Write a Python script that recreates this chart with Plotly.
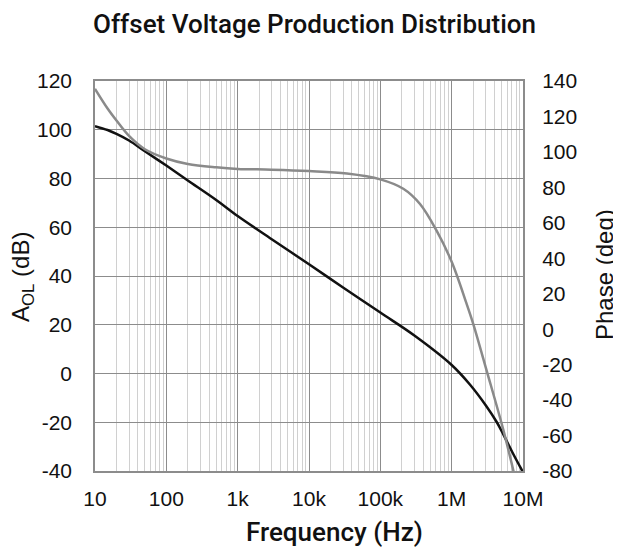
import plotly.graph_objects as go

# Data
gain_freq = [10, 15, 20, 30, 50, 100, 200, 500, 1e3, 3e3, 1e4, 3e4, 1e5, 3e5, 1e6, 1.8e6, 3e6, 4.3e6, 5.3e6, 7e6, 1e7]
gain_db = [101.5, 99.9, 98.3, 95.6, 91.2, 85.3, 79.2, 71.2, 64.6, 55.1, 44.8, 35.3, 25.0, 15.6, 3.5, -4.5, -13.0, -20.0, -25.0, -32.0, -40.5]

phase_freq = [10, 15, 20, 30, 50, 100, 200, 500, 1e3, 3e3, 1e4, 3.4e4, 1e5, 2.1e5, 3.6e5, 6.2e5, 1e6, 1.63e6, 2.02e6, 3.1e6, 5.3e6, 7.4e6]
phase_deg = [135.6, 124.5, 117.7, 109.0, 101.5, 96.3, 93.2, 91.3, 90.4, 90.0, 89.2, 87.8, 84.5, 79.2, 70.6, 55.3, 38.0, 14.0, 2.6, -23.5, -56.8, -80.5]

x_tickvals = [10, 100, 1e3, 1e4, 1e5, 1e6, 1e7]
x_ticktext = ["10", "100", "1k", "10k", "100k", "1M", "10M"]
x_minor = [k * 10 ** d for d in range(1, 7) for k in range(2, 10)]

y_tickvals = [-40, -20, 0, 20, 40, 60, 80, 100, 120]
y_ticktext = ["-40", "-20", "0", "20", "40", "60", "80", "100", "120"]
y2_tickvals = [-80, -60, -40, -20, 0, 20, 40, 60, 80, 100, 120, 140]
y2_ticktext = ["-80", "-60", "-40", "-20", "0", "20", "40", "60", "80", "100", "120", "140"]

title_text = "Offset Voltage Production Distribution"
x_title = "Frequency (Hz)"
y_title = "A<sub>OL</sub> (dB)"
y2_title = "Phase (deg)"

# page has an 8px body margin; compensate so the plot lands where the reference has it
OFF = 8
W, H = 621 - OFF, 550 - OFF
L, R, T, B = 95 - OFF, 98, 81 - OFF, 87 - OFF

fig = go.Figure()
fig.add_trace(go.Scatter(x=phase_freq, y=phase_deg, yaxis="y2", mode="lines",
                         line=dict(color="#8a8a8a", width=2.5, shape="spline", smoothing=1.0),
                         showlegend=False, hoverinfo="skip"))
fig.add_trace(go.Scatter(x=gain_freq, y=gain_db, mode="lines",
                         line=dict(color="#111111", width=2.5, shape="spline", smoothing=1.0),
                         showlegend=False, hoverinfo="skip"))

tick_font = dict(family="Liberation Sans, Arial, sans-serif", size=21, color="#111")
side_font = dict(family="Liberation Sans, Arial, sans-serif", size=24, color="#111")
head_font = dict(family="Roboto, sans-serif", size=26, color="#111", weight=500)

fig.update_layout(
    width=W, height=H,
    margin=dict(l=L, r=R, t=T, b=B),
    paper_bgcolor="white", plot_bgcolor="white",
    xaxis=dict(type="log", range=[1, 7], tickmode="array", tickvals=x_tickvals, ticktext=x_ticktext,
               showgrid=True, gridcolor="#8c8c8c", gridwidth=1.3,
               minor=dict(tickmode="array", tickvals=x_minor, showgrid=True, gridcolor="#d0d0d0", gridwidth=1),
               showline=True, linecolor="#8c8c8c", linewidth=1.5, mirror=True,
               ticks="outside", ticklen=8, tickcolor="rgba(0,0,0,0)", tickfont=tick_font, zeroline=False),
    yaxis=dict(range=[-40, 120], tickmode="array", tickvals=y_tickvals, ticktext=y_ticktext,
               showgrid=True, gridcolor="#8c8c8c", gridwidth=1.3,
               showline=True, linecolor="#8c8c8c", linewidth=1.5, mirror=True,
               ticks="outside", ticklen=17, tickcolor="rgba(0,0,0,0)", tickfont=tick_font, zeroline=False),
    yaxis2=dict(range=[-80, 140], tickmode="array", tickvals=y2_tickvals, ticktext=y2_ticktext,
                overlaying="y", side="right", showgrid=False,
                ticks="outside", ticklen=14, tickcolor="rgba(0,0,0,0)", tickfont=tick_font,
                zeroline=False, showline=False),
)

pw, ph = W - L - R, H - T - B


def page_to_paper(px, py):
    return (px - OFF - L) / pw, 1 - (py - OFF - T) / ph


for text, px, py, font, angle in [
    (title_text, 314, 24, head_font, 0),
    (x_title, 334, 532, head_font, 0),
    (y_title, 22, 277, side_font, -90),
    (y2_title, 604, 275, side_font, -90),
]:
    ax, ay = page_to_paper(px, py)
    fig.add_annotation(text=text, x=ax, y=ay, xref="paper", yref="paper", showarrow=False,
                       font=font, textangle=angle, xanchor="center", yanchor="middle")

fig.write_html("out.html")
